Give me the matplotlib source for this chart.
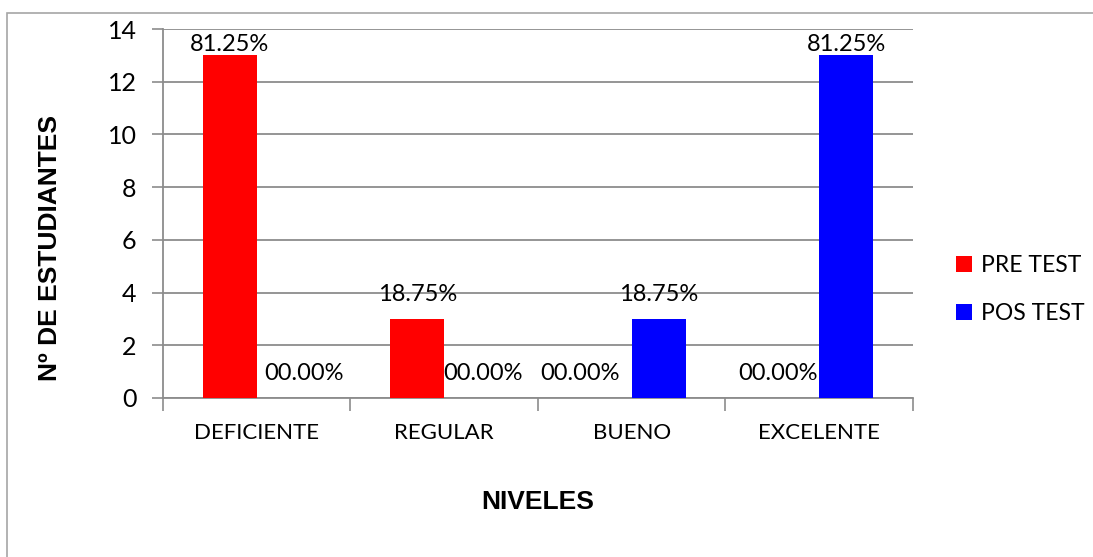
import numpy as np
import matplotlib
matplotlib.use("Agg")
import matplotlib.pyplot as plt
from matplotlib.patches import Rectangle

# data
niveles = ["DEFICIENTE", "REGULAR", "BUENO", "EXCELENTE"]
pre_test = [13, 3, 0, 0]
pos_test = [0, 0, 3, 13]
total = 16
series_names = ["PRE TEST", "POS TEST"]

# zero labels were nudged sideways by hand in the original (pixels)
pre_dx = [0, 0, -25, -14]
pos_dx = [20, 12, 0, 0]

label_font = "Lato"
title_font = "Liberation Sans"

fig = plt.figure(figsize=(10.93, 5.57), dpi=100)
ax = fig.add_axes([0.1491, 0.2855, 0.6862, 0.6624])

# outer frame (only top and left are visible in the reference)
fig.patches.append(Rectangle((7 / 1093, -0.1), 1.2, 1.1 - 12.5 / 557,
                             transform=fig.transFigure, fill=False,
                             edgecolor="#a6a6a6", linewidth=1.2, clip_on=False))

x = np.arange(len(niveles))
w = 0.288
ax.bar(x - w / 2, pre_test, w, color="#ff0000", label=series_names[0], zorder=3)
ax.bar(x + w / 2, pos_test, w, color="#0000ff", label=series_names[1], zorder=3)

ax.set_xlim(-0.5, 3.5)
ax.set_ylim(0, 14)
ax.set_yticks(np.arange(0, 15, 2))
ax.yaxis.grid(True, color="#8c8c8c", linewidth=1.3, zorder=0)
ax.set_axisbelow(True)

ax.set_xticks(x)
ax.set_xticklabels(niveles)
ax.set_xticks(np.arange(-0.5, 4, 1), minor=True)
ax.tick_params(axis="x", which="major", length=0, pad=18,
               labelsize=16, labelfontfamily=label_font)
ax.tick_params(axis="x", which="minor", length=9, color="#8c8c8c", width=1.2)
ax.tick_params(axis="y", length=8, color="#8c8c8c", width=1.2, pad=11,
               labelsize=18, labelfontfamily=label_font)

for side in ["top", "right"]:
    ax.spines[side].set_visible(False)
for side in ["left", "bottom"]:
    ax.spines[side].set_color("#8c8c8c")
    ax.spines[side].set_linewidth(1.3)

# data labels
def pct(v):
    return "{:05.2f}%".format(v / total * 100)

for xs, vals, dxs in [(x - w / 2, pre_test, pre_dx), (x + w / 2, pos_test, pos_dx)]:
    for xi, v, dx in zip(xs, vals, dxs):
        ylab = min(v + 0.91, 13.4)
        ax.annotate(pct(v), xy=(xi, ylab), xytext=(dx, 0), textcoords="offset pixels",
                    ha="center", va="center", fontfamily=label_font, fontsize=17,
                    zorder=5)

ax.set_xlabel("NIVELES", fontfamily=title_font, fontweight="bold", fontsize=19, labelpad=34)
ax.set_ylabel("Nº DE ESTUDIANTES", fontfamily=title_font, fontweight="bold", fontsize=19)
ax.yaxis.set_label_coords(-0.135, 0.4065)

fig.legend(loc="center left", bbox_to_anchor=(0.856, 0.48), frameon=False,
           prop={"family": label_font, "size": 16.5}, handlelength=0.7, handleheight=0.7,
           handletextpad=0.4, labelspacing=1.2)

fig.savefig("out.png", dpi=100)
